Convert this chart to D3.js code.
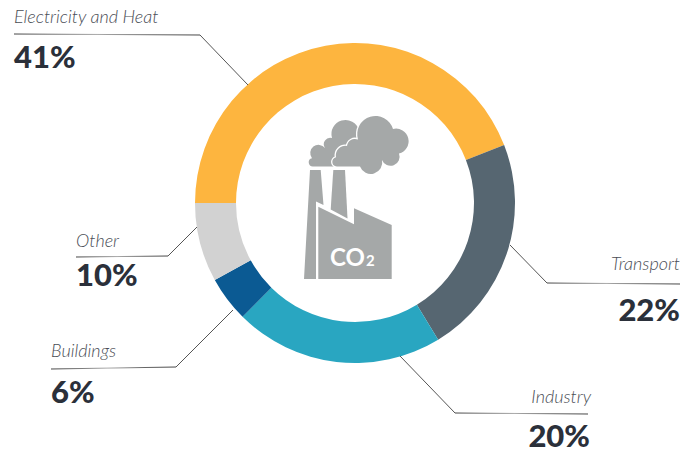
<!DOCTYPE html>
<html><head><meta charset="utf-8">
<script src="https://cdn.jsdelivr.net/npm/d3@7"></script>
<style>html,body{margin:0;padding:0;background:#fff;overflow:hidden}svg{display:block}</style>
</head><body><div id="chart"></div>
<script>
const categories=["Electricity and Heat","Transport","Industry","Buildings","Other"];
const labelPercents=[41,22,20,6,10];
const drawnShares=[44.1,22.2,21.1,4.6,8.0];
const colors=["#fdb53f","#566671","#29a6c1","#0b5a93","#d2d2d2"];
const W=697,H=453,cx=355,cy=203;
const svg=d3.select("#chart").append("svg").attr("width",W).attr("height",H);
const defs=svg.append("defs");
const g=defs.append("linearGradient").attr("id","fade");
[[0,"#444"],[.45,"#aaa"],[.75,"#666"],[1,"#444"]].forEach(s=>g.append("stop").attr("offset",s[0]).attr("stop-color",s[1]));
const pie=d3.pie().sort(null).startAngle(-Math.PI/2).endAngle(1.5*Math.PI);
const arc=d3.arc().innerRadius(119).outerRadius(160);
svg.append("g").attr("transform",`translate(${cx},${cy})`).selectAll("path").data(pie(drawnShares)).join("path")
 .attr("d",arc).attr("fill",(d,i)=>colors[i]);

const leaders=[
 {i:0,h:[14,34,200,35],e:[248,85],lx:14,ly:23,px:14,py:68,a:"start"},
 {i:1,h:[680,284,547,283],e:[510,245],lx:680,ly:270,px:680,py:321,a:"end"},
 {i:2,h:[588,414,455,413],e:[400,356],lx:591,ly:403,px:590,py:447,a:"end"},
 {i:3,h:[51,369,176,367],e:[233,310],lx:51,ly:357,px:51,py:403,a:"start"},
 {i:4,h:[76,257,168,256],e:[197,227],lx:76,ly:247,px:76,py:286,a:"start"}
];
leaders.forEach(l=>{
 const [x1,y1,x2,y2]=l.h;
 svg.append("line").attr("x1",x1).attr("y1",y1).attr("x2",x2).attr("y2",y2+0.01).attr("stroke","url(#fade)").attr("stroke-width",1);
 svg.append("line").attr("x1",x2).attr("y1",y2).attr("x2",l.e[0]).attr("y2",l.e[1]).attr("stroke","#555").attr("stroke-width",1);
 svg.append("text").attr("x",l.lx).attr("y",l.ly).attr("text-anchor",l.a)
  .attr("font-family","Lato").attr("font-style","italic").attr("font-weight",300).attr("font-size",18).attr("fill","#4a4d55").text(categories[l.i]);
 svg.append("text").attr("x",l.px).attr("y",l.py).attr("text-anchor",l.a)
  .attr("font-family","Lato").attr("font-weight",900).attr("font-size",31).attr("fill","#2b303a").text(labelPercents[l.i]+"%");
});

// factory icon
const ic=svg.append("g").attr("fill","#a5a8a8");
ic.append("path").attr("d","M310 170H320.7L323.5 205L316 201.5V279H304Z");
ic.append("path").attr("d","M333.3 170H345L347.5 218.5L330.7 209.5Z");
ic.append("path").attr("d","M318.3 206.7L354 224.3V208.3L391.7 225V279H318.3Z");
ic.append("path").attr("d","M313 166.5A4.2 4.2 0 0 1 312 158.2A7.5 7.5 0 0 1 325 148A6.5 6.5 0 0 1 332 138A14 14 0 0 1 359 130L365 166.5Z");
ic.append("path").attr("stroke","#fff").attr("stroke-width",2.5).attr("paint-order","stroke")
 .attr("d","M338 166.5A4.7 4.7 0 0 1 336 157.3A9.5 9.5 0 0 1 347 146A8 8 0 0 1 358 139.5A17.5 17.5 0 0 1 393 129A11.5 11.5 0 0 1 399 153.5A9 9 0 0 1 382 160A11.5 11.5 0 0 1 360 166.5Z");
svg.append("text").attr("x",330).attr("y",266).attr("font-family","Lato").attr("font-weight",700).attr("font-size",24).attr("fill","#fff").text("CO");
svg.append("text").attr("x",366).attr("y",266).attr("font-family","Lato").attr("font-weight",700).attr("font-size",15).attr("fill","#fff").text("2");
</script></body></html>
